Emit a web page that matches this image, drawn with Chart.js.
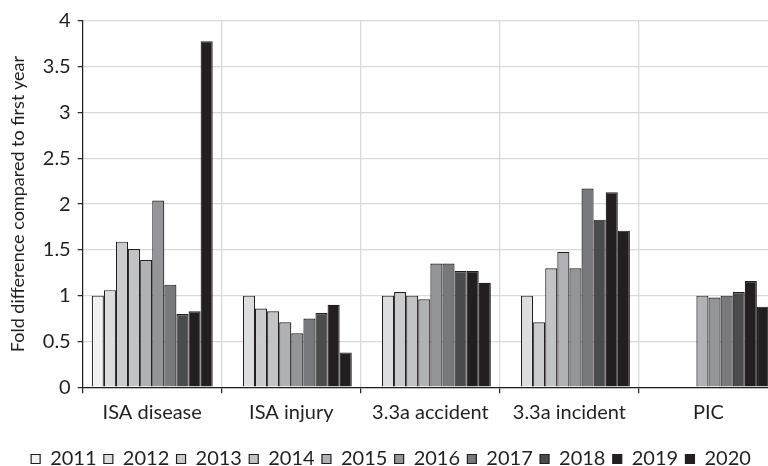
<!DOCTYPE html>
<html>
<head>
<meta charset="utf-8">
<script src="https://cdn.jsdelivr.net/npm/chart.js@4/dist/chart.umd.min.js"></script>
<style>
  html, body { margin:0; padding:0; background:#fff; overflow:hidden; }
  #wrap { width:768px; height:466px; overflow:hidden; position:relative; }
  canvas { display:block; }
</style>
</head>
<body>
<div id="wrap"><canvas id="foldChart" width="778" height="479"></canvas></div>
<script>
// categories + one array of values per year (null = no bar)
const categories = ["ISA disease", "ISA injury", "3.3a accident", "3.3a incident", "PIC"];
const years = ["2011","2012","2013","2014","2015","2016","2017","2018","2019","2020"];

const v2011 = [1.00, null, null, null, null];
const v2012 = [1.06, 1.00, 1.00, 1.00, null];
const v2013 = [1.59, 0.86, 1.04, 0.71, null];
const v2014 = [1.51, 0.83, 1.00, 1.30, null];
const v2015 = [1.39, 0.71, 0.96, 1.48, 1.00];
const v2016 = [2.04, 0.59, 1.35, 1.30, 0.98];
const v2017 = [1.12, 0.75, 1.35, 2.17, 1.00];
const v2018 = [0.80, 0.81, 1.27, 1.83, 1.04];
const v2019 = [0.83, 0.90, 1.27, 2.13, 1.16];
const v2020 = [3.78, 0.38, 1.14, 1.71, 0.88];

const yTicks = [0, 0.5, 1, 1.5, 2, 2.5, 3, 3.5, 4];

const values = [v2011, v2012, v2013, v2014, v2015, v2016, v2017, v2018, v2019, v2020];
const fills = ["#f1f1f2","#dcdddf","#cacbcd","#c2c3c5","#b0b1b4","#949598","#78797c","#4a4b4d","#231f20","#231f20"];
const ink = "#231f20";
const gridGrey = "#d9d9d9";

Chart.defaults.font.family = "Lato";
Chart.defaults.color = ink;

const ctx = document.getElementById("foldChart").getContext("2d");
new Chart(ctx, {
    type: "bar",
    data: {
        labels: categories,
        datasets: years.map((y, i) => ({
            label: y,
            data: values[i],
            backgroundColor: fills[i],
            borderColor: ink,
            borderWidth: 1.2,
            barPercentage: 1.0,
            categoryPercentage: 0.87
        }))
    },
    options: {
        responsive: false,
        animation: false,
        devicePixelRatio: 1,
        layout: { padding: { top: 21, left: 4, right: 0, bottom: 0 } },
        plugins: {
            tooltip: { enabled: false },
            legend: {
                position: "bottom",
                labels: { boxWidth: 9, boxHeight: 9, padding: 7.3, font: { size: 20 } }
            }
        },
        scales: {
            x: {
                grid: { color: gridGrey, lineWidth: 1.3, tickColor: ink, tickLength: 6, tickWidth: 1.2 },
                border: { color: ink, width: 1.2 },
                ticks: { padding: 7, font: { size: 20 } },
                afterFit: s => { s.height = 54.5; }
            },
            y: {
                min: 0, max: 4,
                afterBuildTicks: s => { s.ticks = yTicks.map(v => ({ value: v })); },
                grid: { color: gridGrey, lineWidth: 1.3, tickColor: ink, tickLength: 5, tickWidth: 1.2 },
                border: { color: ink, width: 1.2 },
                ticks: { padding: 7, font: { size: 20 }, callback: v => String(v) },
                title: { display: true, text: "Fold difference compared to first year", font: { size: 18 }, padding: { top: 3, bottom: 0 } },
                afterFit: s => { s.width = 78.7; }
            }
        }
    }
});
</script>
</body>
</html>
